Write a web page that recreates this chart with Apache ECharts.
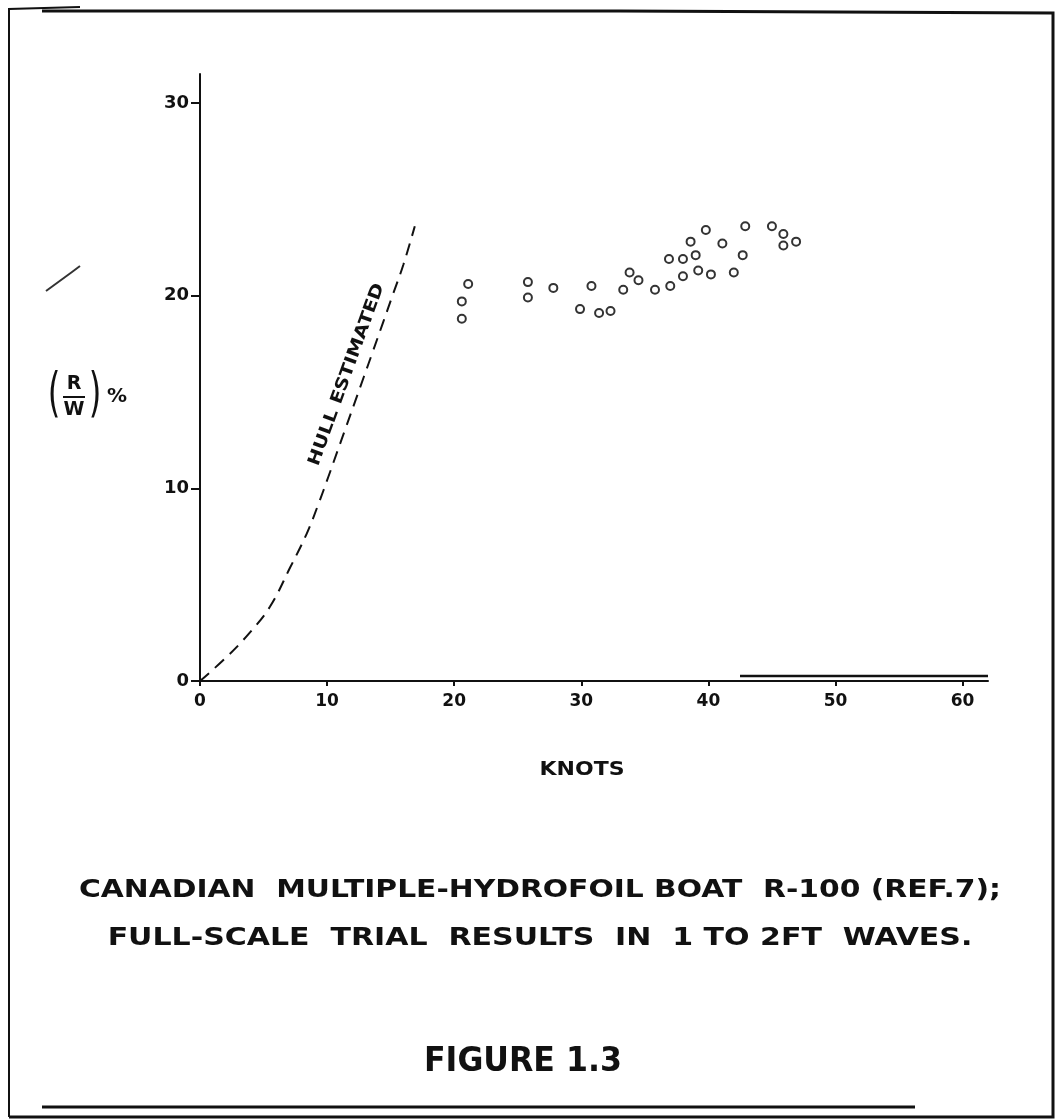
<!DOCTYPE html>
<html>
<head>
<meta charset="utf-8">
<script src="https://cdn.jsdelivr.net/npm/echarts@6/dist/echarts.min.js"></script>
<style>
  html, body { margin: 0; padding: 0; background: #fff; }
  #chart { width: 1057px; height: 1120px; }
</style>
</head>
<body>
<div id="chart"></div>
<script>
// trial results, knots vs R/W %
var trialKnots = [21.1, 20.6, 20.6, 25.8, 25.8, 27.8, 29.9, 30.8, 31.4, 32.3, 33.3, 33.8, 34.5, 35.8, 37.0, 36.9,
    38.0, 38.0, 38.6, 39.0, 39.2, 39.8, 40.2, 41.1, 42.0, 42.7, 42.9, 45.0, 45.9, 45.9, 46.9];
var trialRW = [20.6, 19.7, 18.8, 20.7, 19.9, 20.4, 19.3, 20.5, 19.1, 19.2, 20.3, 21.2, 20.8, 20.3, 20.5, 21.9,
    21.9, 21.0, 22.8, 22.1, 21.3, 23.4, 21.1, 22.7, 21.2, 22.1, 23.6, 23.6, 23.2, 22.6, 22.8];

// hull estimated curve
var hullKnots = [0, 2.1, 3.9, 5.5, 7.1, 8.4, 9.3, 10.1, 10.8, 11.5, 12.2, 12.9, 13.6, 14.4, 15.2, 16.0, 16.9];
var hullRW = [0, 1.25, 2.5, 3.85, 5.9, 7.65, 9.15, 10.6, 11.9, 13.2, 14.5, 15.8, 17.1, 18.6, 20.1, 21.6, 23.6];

var xTicks = [0, 10, 20, 30, 40, 50, 60];
var yTicks = [0, 10, 20, 30];

var FONT = '"DejaVu Sans", sans-serif';
var INK = '#111';

var chart = echarts.init(document.getElementById('chart'));

var option = {
    backgroundColor: '#fff',
    animation: false,
    grid: { left: 200, right: 69, top: 74, bottom: 439 },
    xAxis: {
        type: 'value',
        min: 0,
        max: 62,
        splitLine: { show: false },
        axisLine: { lineStyle: { color: INK, width: 2 } },
        axisTick: { customValues: xTicks, length: 5, lineStyle: { color: INK, width: 2 } },
        axisLabel: {
            customValues: xTicks, color: INK, fontSize: 17, fontWeight: 'bold',
            fontFamily: FONT, margin: 12
        }
    },
    yAxis: {
        type: 'value',
        min: 0,
        max: 31.5,
        splitLine: { show: false },
        axisLine: { lineStyle: { color: INK, width: 2 } },
        axisTick: { customValues: yTicks, length: 9, lineStyle: { color: INK, width: 2 } },
        axisLabel: {
            customValues: yTicks, color: INK, fontSize: 18, fontWeight: 'bold',
            fontFamily: FONT, margin: 11
        }
    },
    series: [
        {
            name: 'Hull estimated',
            type: 'line',
            data: hullKnots.map(function (k, i) { return [k, hullRW[i]]; }),
            smooth: 0.4,
            symbol: 'none',
            lineStyle: { color: INK, width: 2, type: [12, 8] }
        },
        {
            name: 'Trials',
            type: 'scatter',
            data: trialKnots.map(function (k, i) { return [k, trialRW[i]]; }),
            symbol: 'circle',
            symbolSize: 8,
            itemStyle: { color: '#fff', borderColor: '#000', borderWidth: 2 }
        }
    ]
};
chart.setOption(option);

// annotations placed after scales are known
var lbl = chart.convertToPixel({ gridIndex: 0 }, [11.55, 15.9]);
var yLab = { x: 92, y: 397 };

function txt(x, y, s, font, sx) {
    return {
        type: 'text', x: x, y: y, scaleX: sx || 1,
        style: { text: s, fill: INK, font: font, align: 'center', verticalAlign: 'middle' }
    };
}

chart.setOption({
    graphic: [
        // page frame
        { type: 'polyline', shape: { points: [[9, 1117], [9, 9], [80, 7]] }, style: { stroke: INK, lineWidth: 2, fill: null } },
        { type: 'polyline', shape: { points: [[42, 11], [620, 11], [1053, 13], [1053, 1117], [9, 1117]] }, style: { stroke: INK, lineWidth: 3, fill: null } },
        { type: 'line', shape: { x1: 42, y1: 1107, x2: 915, y2: 1107 }, style: { stroke: INK, lineWidth: 3 } },
        // stray mark at the left edge
        { type: 'polyline', shape: { points: [[46, 291], [72, 272], [80, 266]] }, style: { stroke: '#333', lineWidth: 2, fill: null } },
        // extra rule along the axis at the right
        { type: 'line', shape: { x1: 740, y1: 676, x2: 988, y2: 676 }, style: { stroke: INK, lineWidth: 2.5 } },
        // hull label
        {
            type: 'text', x: lbl[0], y: lbl[1], rotation: 70 * Math.PI / 180, scaleX: 1.18,
            style: {
                text: 'HULL ESTIMATED', fill: INK, font: 'bold 17px ' + FONT,
                align: 'center', verticalAlign: 'middle'
            }
        },
        // y axis name (R/W) %
        txt(yLab.x - 38, yLab.y, '(', '54px ' + FONT, 0.6),
        txt(yLab.x - 18, yLab.y - 13, 'R', 'bold 19px ' + FONT),
        { type: 'line', shape: { x1: yLab.x - 29, y1: yLab.y, x2: yLab.x - 7, y2: yLab.y }, style: { stroke: INK, lineWidth: 2 } },
        txt(yLab.x - 18, yLab.y + 13, 'W', 'bold 19px ' + FONT),
        txt(yLab.x + 3, yLab.y, ')', '54px ' + FONT, 0.6),
        txt(yLab.x + 25, yLab.y, '%', 'bold 20px ' + FONT),
        // x axis name
        txt(582, 770, 'KNOTS', 'bold 20px ' + FONT, 1.1),
        // caption
        txt(540, 890, 'CANADIAN  MULTIPLE-HYDROFOIL BOAT  R-100 (REF.7);', 'bold 25px ' + FONT, 1.19),
        txt(540, 938, 'FULL-SCALE  TRIAL  RESULTS  IN  1 TO 2FT  WAVES.', 'bold 25px ' + FONT, 1.2),
        txt(523, 1062, 'FIGURE 1.3', 'bold 34px ' + FONT, 0.93)
    ]
});
</script>
</body>
</html>
